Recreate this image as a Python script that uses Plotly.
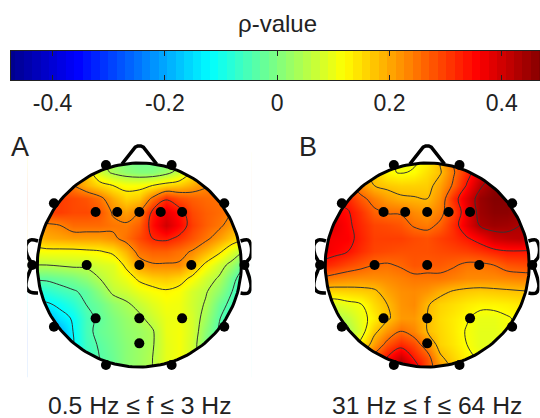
import numpy as np
import plotly.graph_objects as go

W, H = 540, 418
grid_coord = [-1.04,-.91,-.78,-.65,-.52,-.39,-.26,-.13,0,.13,.26,.39,.52,.65,.78,.91,1.04]
grid_y = list(reversed(grid_coord))

rho_a_raw = [
 [.17,.17,.17,.17,.15,.12,.09,.06,.05,.05,.06,.08,.12,.15,.17,.17,.17],
 [.24,.24,.24,.24,.22,.14,.10,.08,.07,.07,.09,.13,.19,.23,.25,.26,.26],
 [.30,.30,.29,.27,.235,.21,.19,.175,.175,.19,.21,.22,.24,.265,.28,.29,.29],
 [.34,.34,.33,.32,.31,.285,.24,.21,.22,.28,.345,.315,.30,.29,.285,.28,.27],
 [.32,.33,.33,.32,.32,.31,.265,.25,.27,.36,.40,.37,.32,.30,.29,.27,.25],
 [.24,.26,.27,.29,.29,.29,.28,.275,.30,.37,.42,.38,.33,.30,.28,.25,.22],
 [.22,.24,.245,.25,.25,.25,.26,.285,.32,.35,.36,.34,.31,.28,.25,.22,.195],
 [.17,.175,.175,.175,.18,.185,.20,.235,.285,.30,.30,.285,.265,.235,.20,.15,.10],
 [.11,.11,.115,.12,.12,.14,.15,.20,.25,.265,.265,.265,.23,.18,.135,.09,.03],
 [.04,.04,.05,.06,.08,.11,.14,.165,.20,.215,.22,.21,.18,.135,.105,.05,-.01],
 [-.02,-.01,.01,.025,.04,.075,.12,.135,.16,.175,.185,.175,.14,.115,.08,.03,-.03],
 [-.06,-.06,-.04,-.01,.03,.05,.08,.10,.125,.15,.17,.165,.135,.105,.05,.015,-.05],
 [-.12,-.12,-.07,-.045,.015,.04,.065,.085,.10,.13,.16,.165,.14,.09,.035,-.01,-.06],
 [-.2,-.2,-.12,-.05,.015,.045,.06,.08,.09,.105,.16,.17,.14,.075,.025,-.02,-.07],
 [-.22,-.2,-.14,-.055,.01,.035,.055,.075,.09,.105,.155,.17,.135,.06,.01,-.02,-.07],
 [-.2,-.18,-.12,-.05,.0,.03,.05,.075,.09,.11,.155,.17,.135,.07,.03,-.01,-.05],
 [-.18,-.15,-.10,-.04,.0,.03,.05,.075,.09,.11,.155,.17,.135,.07,.03,.0,-.03],
]

rho_b_raw = [
 [.27,.27,.27,.25,.22,.15,.09,.10,.12,.20,.28,.33,.38,.42,.44,.44,.44],
 [.30,.29,.27,.23,.17,.12,.105,.115,.15,.185,.265,.33,.39,.43,.47,.47,.47],
 [.32,.31,.29,.235,.19,.175,.165,.165,.17,.215,.28,.355,.42,.47,.47,.46,.46],
 [.36,.34,.33,.285,.25,.22,.20,.195,.19,.235,.33,.39,.455,.48,.48,.47,.46],
 [.38,.37,.355,.32,.28,.265,.265,.24,.225,.255,.31,.38,.45,.47,.47,.45,.42],
 [.39,.385,.36,.33,.305,.30,.29,.265,.255,.28,.33,.385,.435,.45,.445,.43,.39],
 [.375,.37,.365,.335,.31,.31,.31,.30,.295,.31,.325,.345,.37,.405,.415,.42,.39],
 [.38,.365,.35,.325,.305,.30,.295,.295,.295,.30,.305,.31,.32,.335,.345,.345,.345],
 [.335,.32,.30,.285,.27,.265,.275,.29,.285,.285,.275,.26,.26,.27,.29,.295,.30],
 [.265,.25,.24,.235,.235,.24,.25,.26,.26,.26,.25,.24,.24,.24,.245,.25,.25],
 [.16,.16,.165,.17,.18,.215,.235,.24,.23,.205,.185,.175,.17,.175,.18,.185,.19],
 [.08,.07,.09,.105,.155,.19,.23,.24,.195,.165,.15,.135,.125,.125,.13,.14,.15],
 [.02,.02,.045,.09,.13,.18,.225,.225,.19,.155,.135,.115,.09,.09,.105,.12,.13],
 [.0,.0,.02,.08,.175,.23,.27,.245,.19,.16,.135,.105,.085,.085,.10,.115,.12],
 [.0,.0,.03,.13,.22,.29,.33,.30,.24,.165,.14,.11,.085,.085,.10,.115,.12],
 [.05,.08,.12,.2,.29,.355,.41,.345,.295,.20,.16,.125,.10,.10,.12,.13,.13],
 [.10,.14,.18,.25,.33,.42,.47,.41,.30,.24,.19,.15,.12,.12,.13,.14,.14],
]

# colour values read against the colour bar, at the contour levels of each map
level_read = [-.22,-.05,.03,.11,.19,.27,.35,.43,.48]
colour_a = [-.29,-.12,-.04,.05,.13,.235,.32,.41,.46]
colour_b = [-.21,-.04,.05,.115,.18,.255,.34,.43,.47]
fill_a = np.interp(rho_a_raw, level_read, colour_a).tolist()
fill_b = np.interp(rho_b_raw, level_read, colour_b).tolist()

electrode_x = [-.327,.317,-.837,.833,-1.05,1.03,-.837,.833,-.327,.317,
               -.428,-.216,0,.21,.42,-.516,0,.51,-.428,0,.42,0]
electrode_y = [.98,.98,.605,.605,0,0,-.605,-.605,-.98,-.98,
               .52,.52,.52,.52,.52,0,0,0,-.523,-.523,-.523,-.768]

nose_x = [-.17,-.04,-.015,.015,.04,.17]
nose_y = [.99,1.155,1.167,1.167,1.155,.99]
ear_left_x = [-.993,-1.07,-1.11,-1.10,-1.06,-1.06,-1.10,-1.11,-1.07,-.993]
ear_left_y = [.235,.245,.196,.098,.02,-.02,-.127,-.216,-.265,-.275]
ear_right_x = [.993,1.066,1.095,1.09,1.046,1.046,1.08,1.095,1.066,.993]
ear_right_y = [.235,.245,.196,.08,.02,-.02,-.127,-.216,-.275,-.275]

tick_vals = [-.4,-.2,0,.2,.4]
tick_text = ["-0.4","-0.2","0","0.2","0.4"]
panel_titles = ["A","B"]
panel_bands = ["0.5 Hz ≤ f ≤ 3 Hz","31 Hz ≤ f ≤ 64 Hz"]

ZMAX = .474
jet = [[0,"rgb(0,0,143)"],[.125,"rgb(0,0,255)"],[.375,"rgb(0,255,255)"],
       [.625,"rgb(255,255,0)"],[.875,"rgb(255,0,0)"],[1,"rgb(128,0,0)"]]

FONT = "Liberation Sans, Arial, sans-serif"
TXT = "#222222"
SCALE = 102.0
RX, RY = 1.1, 1.2

fig = go.Figure()

def dom_x(cx):
    return [max(0,(cx-RX*SCALE)/W), min(1,(cx+RX*SCALE)/W)]
def dom_y(cy):
    return [1-(cy+RY*SCALE)/H, 1-(cy-RY*SCALE)/H]

th = np.linspace(0, 2*np.pi, 181)
circ_x = np.cos(th); circ_y = np.sin(th)
mask_x = [-1.3,1.3,1.3,1.0] + list(circ_x[::-1]) + [1.3,1.3,-1.3,-1.3]
mask_y = [-1.3,-1.3,0,0] + list(circ_y[::-1]) + [0,1.3,1.3,-1.3]

for i,(rho,fill,cx) in enumerate([(rho_a_raw,fill_a,139.3),(rho_b_raw,fill_b,427.2)]):
    ax = "" if i==0 else "2"
    xa, ya = "x"+ax, "y"+ax
    fig.add_trace(go.Heatmap(x=grid_coord,y=grid_y,z=fill,xaxis=xa,yaxis=ya,colorscale=jet,
        zmin=-ZMAX,zmax=ZMAX,zsmooth="best",showscale=False,hoverinfo="skip"))
    fig.add_trace(go.Contour(x=grid_coord,y=grid_y,z=rho,xaxis=xa,yaxis=ya,
        showscale=False,hoverinfo="skip",
        contours=dict(coloring="none",start=-.05,end=.43,size=.08,showlabels=False),
        line=dict(color="#333333",width=1,smoothing=1.0)))
    fig.add_trace(go.Scatter(x=mask_x,y=mask_y,xaxis=xa,yaxis=ya,mode="none",fill="toself",
        fillcolor="white",hoverinfo="skip",showlegend=False))
    for ex,ey,shape,lw in [(list(circ_x),list(circ_y),"linear",3),(nose_x,nose_y,"linear",3.5),
                        (ear_left_x,ear_left_y,"spline",3.5),(ear_right_x,ear_right_y,"spline",3.5)]:
        fig.add_trace(go.Scatter(x=ex,y=ey,xaxis=xa,yaxis=ya,mode="lines",cliponaxis=False,
            line=dict(color="black",width=lw,shape=shape),hoverinfo="skip",showlegend=False))
    fig.add_trace(go.Scatter(x=electrode_x,y=electrode_y,xaxis=xa,yaxis=ya,mode="markers",cliponaxis=False,
        marker=dict(color="black",size=10),hoverinfo="skip",showlegend=False))
    fig.update_layout(**{
        "xaxis"+ax: dict(domain=dom_x(cx),range=[-RX,RX],visible=False,fixedrange=True),
        "yaxis"+ax: dict(domain=dom_y(265),range=[-RY,RY],visible=False,fixedrange=True),
    })

bar_vals = list(np.linspace(-ZMAX,ZMAX,64))
fig.add_trace(go.Heatmap(x=bar_vals,y=[0,1],z=[bar_vals,bar_vals],xaxis="x3",yaxis="y3",
    colorscale=jet,zmin=-ZMAX,zmax=ZMAX,showscale=False,hoverinfo="skip"))
fig.update_layout(
    xaxis3=dict(domain=[11/W,1],range=[-.474,.468],tickvals=tick_vals,ticktext=tick_text,
        ticks="inside",ticklen=5,tickcolor="#222",tickwidth=1,showline=True,linecolor="#222",linewidth=1,
        mirror="ticks",showgrid=False,zeroline=False,anchor="y3",fixedrange=True,
        tickfont=dict(family=FONT,size=23,color=TXT),ticklabelstandoff=2),
    yaxis3=dict(domain=[1-80/H,1-50.5/H],range=[0,1],visible=True,showticklabels=False,ticks="",
        showgrid=False,zeroline=False,showline=True,linecolor="#222",linewidth=1,mirror=True,
        anchor="x3",fixedrange=True),
)

def label(txt,x,y,size):
    fig.add_annotation(text=txt,x=x/W,y=1-y/H,xref="paper",yref="paper",showarrow=False,
        xanchor="center",yanchor="middle",font=dict(family=FONT,size=size,color=TXT))

label("ρ-value",277,24,24)
label(panel_titles[0],20,147,27)
label(panel_titles[1],308,147,27)
label(panel_bands[0],139.5,405,24.7)
label(panel_bands[1],427,405,24.7)

fig.update_layout(width=W,height=H,margin=dict(l=0,r=0,t=0,b=0),autosize=False,
    paper_bgcolor="white",plot_bgcolor="white",showlegend=False)
fig.write_html("out.html",config={"displayModeBar":False},
    post_script="document.body.style.margin='0';")
